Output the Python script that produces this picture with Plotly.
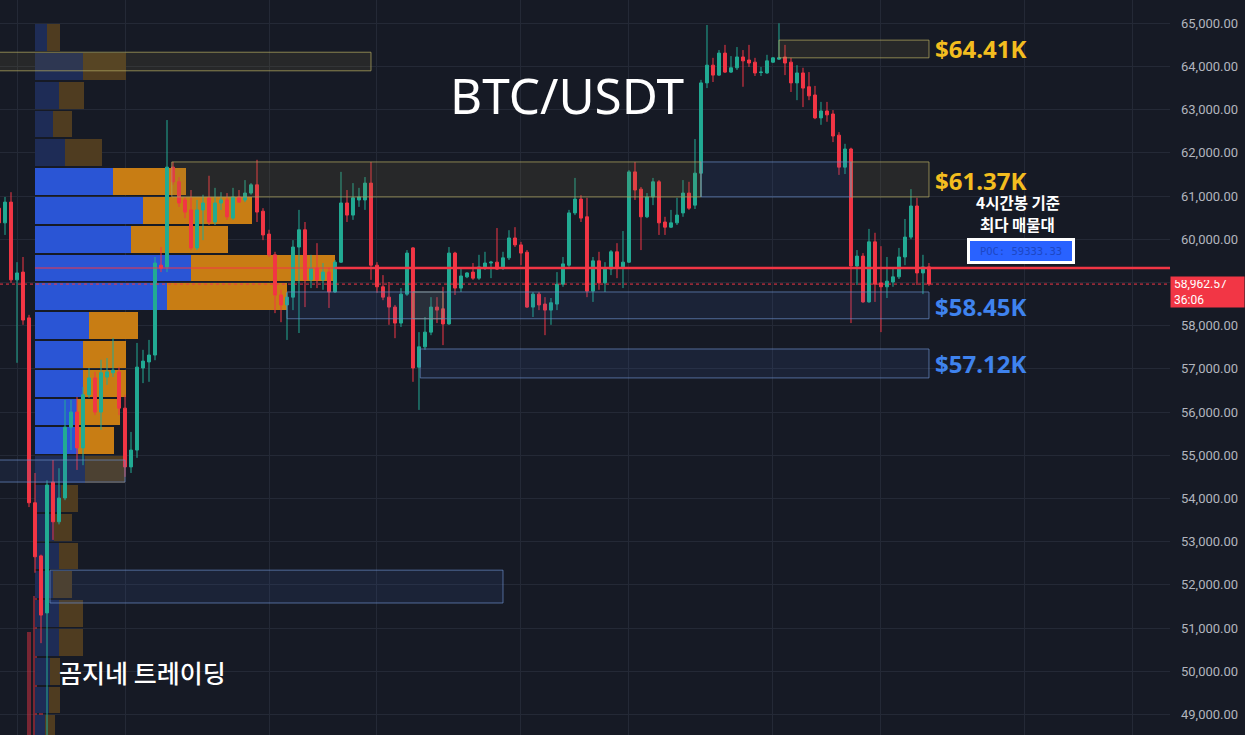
import plotly.graph_objects as go

# ---------------- BTC/USDT 4h candles ----------------
opens = [60720, 60380, 60860, 59060, 59240, 58180, 53900, 52670, 51350, 54380,
         53460, 54010, 55650, 56000, 55170, 56400, 56790, 56000, 56810, 56910,
         56930, 56090, 54730, 55120, 57020, 57160, 57320, 59400, 59360, 61670,
         61330, 60910, 60680, 59800, 60680, 60960, 60400, 60840, 60910, 60490,
         60980, 60910, 61070, 61260, 60650, 60120, 59640, 58710, 58480, 58660,
         59820, 60220, 59060, 59330, 59060, 59240, 58780, 59470, 60840, 60560,
         60910, 60910, 61300, 59400, 58900, 58660, 58430, 58060, 58730, 59800,
         57040, 57510, 57850, 58430, 58390, 58040, 59680, 58870, 59130, 59240,
         59100, 59360, 59450, 59470, 59330, 59570, 60030, 59870, 59700, 58430,
         58730, 58500, 58360, 58500, 58960, 59400, 60610, 60930, 60520, 58800,
         59500, 58990, 59310, 59710, 59360, 59470, 61560, 61160, 60520, 60980,
         61330, 60400, 60280, 60380, 60610, 61070, 60790, 61530, 63620, 64030,
         63800, 64310, 63870, 63970, 64220, 64150, 64100, 63860, 63850, 64100,
         64170, 64220, 64100, 63620, 63850, 63530, 63340, 62810, 62970, 62900,
         62410, 61670, 62090, 59380, 59610, 58550, 59940, 58990, 58900, 59010,
         59130, 59590, 60050, 60770, 59220, 59360]
highs = [60910, 60980, 61090, 59470, 59590, 58250, 54590, 52700, 54420, 54890,
         54700, 56280, 56280, 56350, 56580, 57020, 56930, 57210, 57250, 57710,
         57040, 56400, 55540, 57600, 57440, 57670, 59590, 59820, 62760, 61790,
         61440, 60980, 61140, 60910, 61030, 61470, 61190, 61090, 61070, 61190,
         61140, 61370, 61300, 61840, 60720, 60220, 59710, 58830, 58760, 59980,
         60680, 60400, 59640, 59910, 59450, 59340, 59520, 61560, 61140, 61300,
         61190, 61440, 61790, 59470, 59170, 59010, 58480, 58870, 59750, 59820,
         57850, 58200, 58660, 58660, 58900, 59820, 59710, 59340, 59240, 59450,
         59640, 59710, 59500, 60260, 59710, 60210, 60280, 59940, 59750, 58780,
         58780, 58660, 58640, 59240, 59590, 60680, 61420, 61020, 60960, 59590,
         59710, 59470, 59750, 59910, 60190, 61600, 61790, 61210, 61070, 61420,
         61370, 60520, 60680, 60960, 61370, 61330, 62320, 63690, 64960, 64200,
         64380, 64500, 64240, 64450, 64380, 64500, 64200, 63990, 64270, 64220,
         65000, 64500, 64200, 64030, 63970, 63870, 63550, 63180, 63180, 62990,
         62480, 62210, 62120, 59750, 59680, 60240, 60150, 59840, 59590, 59340,
         59800, 60470, 61160, 60960, 59640, 59450]
lows = [60310, 60100, 58990, 57140, 58020, 53800, 52280, 50650, 48500, 53040,
        53400, 53960, 55120, 54660, 54770, 56330, 55930, 55590, 56630, 56810,
        55930, 54500, 54590, 54940, 56670, 56700, 57200, 59240, 59240, 61260,
        60750, 60490, 59750, 59750, 59980, 60330, 60330, 60680, 60450, 60450,
        60840, 60860, 61030, 60400, 59980, 59590, 58290, 58080, 57670, 58360,
        57830, 58430, 58870, 58870, 58830, 58410, 58760, 59450, 60400, 60450,
        60750, 60680, 59060, 58760, 58590, 58020, 57710, 57970, 58690, 56700,
        56050, 57440, 57780, 58060, 57550, 58020, 58710, 58780, 59100, 59060,
        59060, 59290, 59100, 59290, 59290, 59520, 59820, 59400, 58410, 58200,
        58360, 57780, 58020, 58360, 58900, 59360, 60560, 60400, 58660, 58550,
        58830, 58780, 59170, 59100, 58870, 59450, 60910, 59750, 60490, 60790,
        60100, 60100, 60260, 60330, 60520, 60680, 60700, 60980, 63500, 63640,
        63780, 63850, 63850, 63920, 63530, 63990, 63780, 63780, 63830, 64080,
        64150, 63800, 63410, 63220, 63060, 63220, 62780, 62650, 62720, 62250,
        61490, 61510, 58060, 58940, 58530, 58530, 58550, 57850, 58640, 58900,
        59080, 59400, 60000, 58940, 58730, 58920]
closes = [60380, 60860, 59060, 59220, 58130, 53900, 52650, 51300, 54310, 53460,
          54010, 55650, 56000, 55170, 56400, 56790, 56000, 56910, 56930, 56970,
          56090, 54730, 55120, 57040, 57180, 57320, 59450, 59330, 61670, 61330,
          60840, 60630, 59800, 60680, 60840, 60400, 60840, 60910, 60520, 60980,
          60860, 61070, 61260, 60630, 60100, 59640, 58710, 58480, 58660, 59820,
          60220, 59060, 59330, 59060, 59240, 58780, 59470, 60840, 60560, 60960,
          60980, 61300, 59400, 58900, 58660, 58430, 58060, 58730, 59680, 57020,
          57510, 57850, 58430, 58360, 58040, 59680, 58870, 59150, 59220, 59100,
          59360, 59450, 59470, 59310, 59570, 60030, 59870, 59680, 58430, 58730,
          58480, 58360, 58530, 58960, 59430, 60610, 60930, 60490, 58800, 59500,
          58990, 59310, 59710, 59340, 59470, 61560, 61140, 60520, 60980, 61330,
          60380, 60280, 60380, 60560, 61070, 60720, 61530, 63620, 64030, 63800,
          64310, 63870, 63970, 64220, 64130, 64080, 63850, 63870, 64130, 64200,
          64200, 64080, 63620, 63850, 63500, 63320, 62810, 62970, 62880, 62390,
          61670, 62090, 59380, 59610, 58550, 59940, 58960, 58900, 59030, 59130,
          59590, 60050, 60770, 59220, 59360, 58962.57]
bar_no = list(range(len(opens)))
countdown = "36:06"

# volume columns that rise above the floor (crash session)
vol_bar = [5, 6, 7, 8, 9]
vol_btc = [41000, 55500, 8800, 6000, 1200]

# ---------------- visible-range volume profile ----------------
bin_low = 48333.33
bin_size = 2000 / 3
buy_vol = [10, 14, 15, 24, 24, 18, 24, 19, 26, 50, 43, 42, 48, 48, 54,
           132, 156, 96, 108, 78, 30, 18, 24, 48, 12]
sell_vol = [10, 11, 10, 24, 24, 19, 19, 18, 17, 40, 36, 43, 43, 43, 49,
            120, 144, 97, 109, 73, 37, 19, 25, 43, 13]
value_area = (55000.0, 61666.67)

# ---------------- supply / demand zones ----------------
zone_kind = ["supply", "supply", "supply", "demand", "supply",
             "demand", "supply", "demand", "demand", "demand"]
zone_from = [-3, 130, 28.8, 117, 142, 48, 69, 70.2, -3, 8.5]
zone_to = [62, 155, 117, 142, 155, 155, 74, 155, 21, 84]
zone_lo = [63900, 64200, 60980, 60980, 60980, 58160, 58160, 56790, 54380, 51580]
zone_hi = [64330, 64610, 61790, 61790, 61790, 58780, 58780, 57460, 54890, 52340]

level_price = [64410, 61370, 58450, 57120]
level_text = ["$64.41K", "$61.37K", "$58.45K", "$57.12K"]
level_kind = ["supply", "supply", "demand", "demand"]

note_lines = ["4시간봉 기준", "최다 매물대"]

grid_bars = [3, 21, 45, 63, 87, 105, 129, 147, 171, 189]
price_ticks = list(range(49000, 65001, 1000))

# ---------------- styling ----------------
BG = "#161a25"
GRID = "#242936"
UP = "#22ab94"
DOWN = "#f23645"
BLUE = "#2a55d5"
ORANGE = "#c87d14"
BLUE_DIM = "#1e2c56"
ORANGE_DIM = "#4f3c20"
ZONE_STYLE = {
    "supply": dict(fill="rgba(130,120,60,0.16)", line="rgba(175,165,95,0.75)"),
    "demand": dict(fill="rgba(60,100,180,0.13)", line="rgba(105,140,200,0.7)"),
}
LEVEL_COLOR = {"supply": "#f3bd1f", "demand": "#3f83ee"}

fig = go.Figure()

# base price pane (holds the grid)
fig.add_trace(go.Scatter(x=[None], y=[None], xaxis="x", yaxis="y",
                         mode="markers", hoverinfo="skip"))

# volume columns (bottom overlay)
fig.add_trace(go.Bar(
    x=vol_bar, y=vol_btc, xaxis="x", yaxis="y3", width=0.75,
    marker=dict(color=["rgba(34,171,148,0.45)" if closes[i] >= opens[i]
                       else "rgba(242,54,69,0.45)" for i in vol_bar],
                line=dict(width=0)),
    hoverinfo="skip"))

# volume profile rows
centers = [bin_low + (j + 0.5) * bin_size for j in range(len(buy_vol))]
in_va = [value_area[0] <= c <= value_area[1] for c in centers]
fig.add_trace(go.Bar(
    y=centers, x=buy_vol, orientation="h", xaxis="x2", yaxis="y",
    width=bin_size * 0.93, base=[0] * len(buy_vol),
    marker=dict(color=[BLUE if v else BLUE_DIM for v in in_va], line=dict(width=0)),
    hoverinfo="skip"))
fig.add_trace(go.Bar(
    y=centers, x=sell_vol, orientation="h", xaxis="x2", yaxis="y",
    width=bin_size * 0.93, base=buy_vol,
    marker=dict(color=[ORANGE if v else ORANGE_DIM for v in in_va], line=dict(width=0)),
    hoverinfo="skip"))

# zones
for kind in ("supply", "demand"):
    xs, ys = [], []
    for k, f, t, lo, hi in zip(zone_kind, zone_from, zone_to, zone_lo, zone_hi):
        if k != kind:
            continue
        xs += [f, t, t, f, f, None]
        ys += [lo, lo, hi, hi, lo, None]
    st = ZONE_STYLE[kind]
    fig.add_trace(go.Scatter(
        x=xs, y=ys, mode="lines", fill="toself", fillcolor=st["fill"],
        line=dict(color=st["line"], width=1), xaxis="x3", yaxis="y",
        hoverinfo="skip"))

# candles
fig.add_trace(go.Candlestick(
    x=bar_no, open=opens, high=highs, low=lows, close=closes,
    xaxis="x3", yaxis="y", whiskerwidth=0,
    increasing=dict(line=dict(color=UP, width=1), fillcolor=UP),
    decreasing=dict(line=dict(color=DOWN, width=1), fillcolor=DOWN),
    hoverinfo="skip"))

# point of control
totals = [b + s for b, s in zip(buy_vol, sell_vol)]
poc_j = totals.index(max(totals))
poc_price = bin_low + (poc_j + 0.5) * bin_size
last_price = closes[-1]

x_range = [1 / 6, 195.17]
shapes = [
    dict(type="line", xref="x2", yref="y", x0=0, x1=totals[poc_j],
         y0=poc_price, y1=poc_price, line=dict(color="rgba(242,54,69,0.5)", width=2),
         layer="above"),
    dict(type="line", xref="x2", yref="y", x0=totals[poc_j], x1=1135,
         y0=poc_price, y1=poc_price, line=dict(color=DOWN, width=2.5), layer="above"),
    dict(type="line", xref="paper", yref="y", x0=0, x1=1,
         y0=last_price, y1=last_price, line=dict(color=DOWN, width=1, dash="dot"),
         layer="above"),
]

annotations = [
    dict(text="BTC/USDT", xref="paper", yref="paper", x=0.4846, y=0.871,
         xanchor="center", yanchor="middle", showarrow=False,
         font=dict(family="Noto Sans", size=49.5, color="white")),
    dict(text="곰지네 트레이딩", xref="paper", yref="paper", x=0.0487, y=0.0857,
         xanchor="left", yanchor="middle", showarrow=False,
         font=dict(family="Noto Sans CJK KR", size=25, color="white", weight=500)),
    dict(text=f"POC: {poc_price:.2f}", xref="paper", yref="paper", x=0.8726, y=0.6585,
         xanchor="center", yanchor="middle",
         showarrow=False, bgcolor="#2962ff", bordercolor="white", borderwidth=3,
         borderpad=3, width=96, height=14,
         font=dict(family="DejaVu Sans Mono", size=10.5, color="#1d47c4")),
    dict(text=f"{last_price:,.2f}<br>{countdown}", xref="paper", yref="y", x=1.0,
         y=last_price, xanchor="left", yanchor="middle", yshift=-8, showarrow=False,
         align="left", bgcolor=DOWN, borderpad=3, width=67, height=24,
         font=dict(family="Roboto", size=12, color="#ffffff")),
]
# two-line note above the POC tag
for line, yc in zip(note_lines, (0.7245, 0.6955)):
    annotations.append(dict(
        text=line, xref="paper", yref="paper", x=0.870, y=yc,
        xanchor="center", yanchor="middle", showarrow=False, borderpad=0,
        font=dict(family="Noto Sans CJK KR", size=15.5, color="white", weight="bold")))
for p, t, k in zip(level_price, level_text, level_kind):
    annotations.append(dict(
        text=t, xref="paper", yref="y", x=0.798, y=p, xanchor="left",
        yanchor="middle", showarrow=False, borderpad=0,
        font=dict(family="Noto Sans", size=24, color=LEVEL_COLOR[k], weight="bold")))

# the 59,000 label sits under the live-price tag
tick_text = ["" if v == 59000 else f"{v:,.2f}" for v in price_ticks]

fig.update_layout(
    width=1245, height=735,
    margin=dict(l=0, r=75, t=0, b=0),
    paper_bgcolor=BG, plot_bgcolor=BG,
    showlegend=False, barmode="overlay", bargap=0,
    xaxis=dict(range=x_range, tickmode="array", tickvals=grid_bars,
               showticklabels=False, showgrid=True, gridcolor=GRID, gridwidth=1,
               zeroline=False, showline=False, ticks="",
               rangeslider=dict(visible=False)),
    xaxis2=dict(overlaying="x", range=[-35, 1135], visible=False),
    xaxis3=dict(overlaying="x", range=x_range, visible=False,
                rangeslider=dict(visible=False)),
    yaxis=dict(side="right", range=[48524, 65539], tickmode="array",
               tickvals=price_ticks, ticktext=tick_text, showgrid=True,
               gridcolor=GRID, gridwidth=1, zeroline=False, ticks="",
               ticklabelstandoff=10,
               tickfont=dict(family="Roboto", size=13, color="#b2b5be")),
    yaxis3=dict(overlaying="y", range=[0, 293500], visible=False),
    shapes=shapes, annotations=annotations,
)

fig.write_html("out.html")
